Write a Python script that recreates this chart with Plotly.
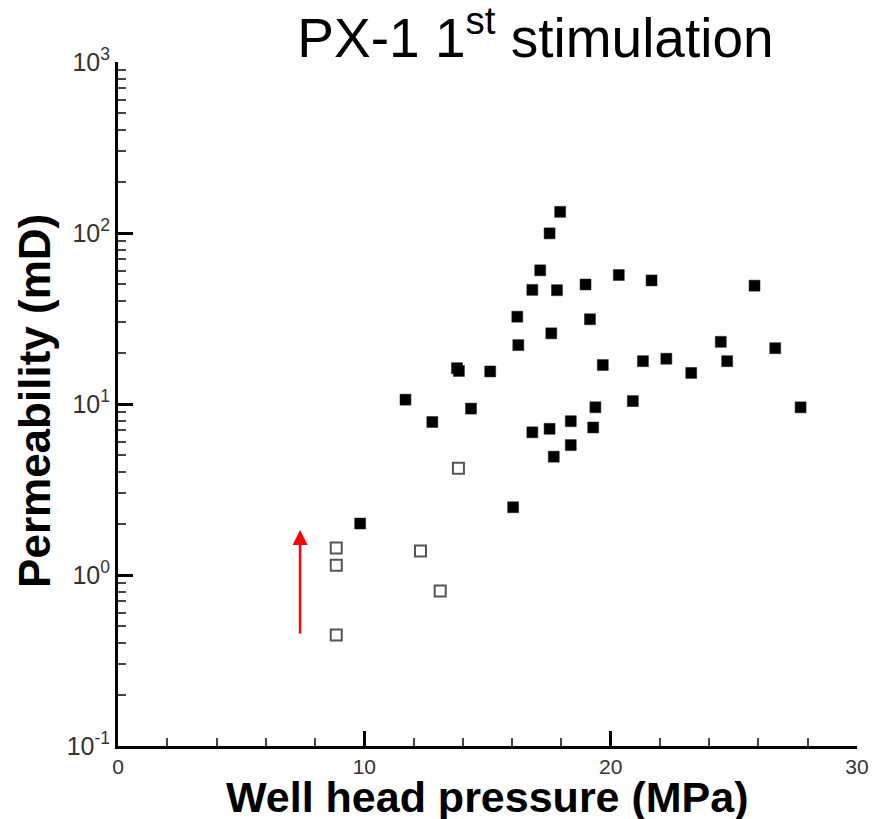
import numpy as np
import plotly.graph_objects as go

# Stimulated intervals (filled squares)
stim_pressure = [17.95, 17.52, 17.14, 16.82, 17.82, 18.98, 20.33, 21.66, 25.84,
                 16.21, 19.16, 16.25, 17.59, 13.76, 13.84, 15.11, 19.68, 21.31,
                 22.26, 23.27, 24.47, 24.73, 26.68, 11.67, 12.76, 14.33, 16.82,
                 17.52, 18.38, 19.38, 19.29, 18.38, 17.69, 20.90, 27.71, 16.04,
                 9.83]
stim_perm = [133, 99.5, 60.5, 46.5, 46.3, 50.0, 56.8, 52.8, 49.2,
             32.4, 31.3, 22.1, 25.9, 16.2, 15.6, 15.5, 16.9, 17.8,
             18.4, 15.2, 23.1, 17.8, 21.2, 10.6, 7.85, 9.4, 6.83,
             7.16, 7.93, 9.57, 7.29, 5.75, 4.92, 10.4, 9.56, 2.49,
             2.0]

# Pre-stimulation intervals (open squares)
pre_pressure = [8.86, 8.86, 8.86, 12.28, 13.08, 13.82]
pre_perm = [1.44, 1.14, 0.446, 1.38, 0.806, 4.21]

# Red arrow: pressure and permeability at tail and head
arrow_pressure = 7.39
arrow_tail_perm = 0.446
arrow_head_perm = 1.83

x_range = [0, 30]
y_exponents = [-1, 0, 1, 2, 3]
y_tickvals = [10.0 ** e for e in y_exponents]
y_ticktext = [f"10<sup>{e}</sup>" for e in y_exponents]

fig = go.Figure()

fig.add_trace(go.Scatter(
    x=pre_pressure, y=pre_perm, mode="markers",
    marker=dict(symbol="square-open", size=11, color="#555555",
                line=dict(width=2, color="#555555")),
    showlegend=False,
))
fig.add_trace(go.Scatter(
    x=stim_pressure, y=stim_perm, mode="markers",
    marker=dict(symbol="square", size=11, color="black",
                line=dict(width=0.5, color="#222222")),
    showlegend=False,
))

fig.add_annotation(
    x=arrow_pressure, y=np.log10(arrow_head_perm),
    ax=arrow_pressure, ay=np.log10(arrow_tail_perm),
    xref="x", yref="y", axref="x", ayref="y",
    text="", showarrow=True, arrowhead=2, arrowsize=1.2,
    arrowwidth=2.5, arrowcolor="#ff0000",
)

label_font = dict(family="Liberation Sans, Arial, sans-serif", size=43,
                  color="black")
fig.add_annotation(
    text="<b>Well head pressure (MPa)</b>", xref="paper", yref="paper",
    x=(491.5 - 118) / 747, y=(746 - 797) / 684,
    xanchor="center", yanchor="middle", showarrow=False, font=label_font,
)
fig.add_annotation(
    text="<b>Permeability (mD)</b>", xref="paper", yref="paper",
    x=(33 - 118) / 747, y=(746 - 401) / 684, textangle=-90,
    xanchor="center", yanchor="middle", showarrow=False,
    font=dict(label_font, size=44),
)

minor_y = [m * 10.0 ** k for k in y_exponents[:-1] for m in range(2, 10)]

x_tick_font = dict(family="Liberation Sans, Arial, sans-serif", size=21,
                   color="#333333")
y_tick_font = dict(x_tick_font, size=25)

fig.update_layout(
    width=881, height=819,
    margin=dict(l=118, r=16, t=62, b=73),
    paper_bgcolor="white", plot_bgcolor="white",
    title=dict(
        text="PX-1 1<sup>st</sup> stimulation",
        x=535.5 / 881, xref="container", xanchor="center",
        y=1 - 38 / 819, yref="container", yanchor="middle",
        font=dict(family="Liberation Sans, Arial, sans-serif", size=55,
                  color="black"),
    ),
    xaxis=dict(
        range=x_range, dtick=10, tick0=0,
        showline=True, linewidth=3, linecolor="black",
        ticks="inside", ticklen=15, tickwidth=3, tickcolor="black",
        showgrid=False, zeroline=False, tickfont=x_tick_font,
        minor=dict(dtick=2, tick0=0, ticks="inside", ticklen=8,
                   tickwidth=2, tickcolor="#444444", showgrid=False),
    ),
    yaxis=dict(
        type="log", range=[y_exponents[0], y_exponents[-1]],
        tickmode="array", tickvals=y_tickvals, ticktext=y_ticktext,
        showline=True, linewidth=3, linecolor="black",
        ticks="inside", ticklen=15, tickwidth=3, tickcolor="black",
        showgrid=False, zeroline=False, tickfont=y_tick_font,
        minor=dict(tickvals=minor_y, ticks="inside", ticklen=8,
                   tickwidth=2, tickcolor="#444444", showgrid=False),
    ),
)

fig.write_html("out.html")
